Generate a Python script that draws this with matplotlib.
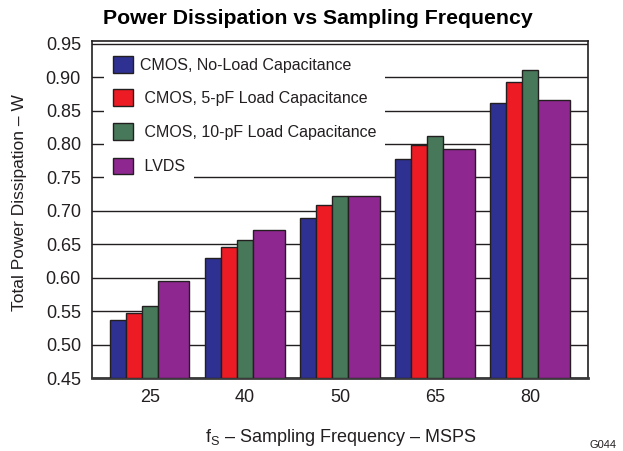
import numpy as np
import matplotlib.pyplot as plt

plt.rcParams['font.family'] = ['Liberation Sans', 'DejaVu Sans']
plt.rcParams['mathtext.fontset'] = 'custom'
plt.rcParams['mathtext.rm'] = 'Liberation Sans'
plt.rcParams['mathtext.it'] = 'Liberation Sans:italic'

# sampling frequencies (MSPS) and total power (W) per output mode
freqs = ['25', '40', '50', '65', '80']
cmos_no_load = [0.537, 0.630, 0.690, 0.777, 0.862]
cmos_5pf = [0.547, 0.646, 0.708, 0.799, 0.893]
cmos_10pf = [0.558, 0.657, 0.722, 0.812, 0.910]
lvds = [0.595, 0.672, 0.722, 0.793, 0.866]

series_labels = ['CMOS, No-Load Capacitance', ' CMOS, 5-pF Load Capacitance',
                 ' CMOS, 10-pF Load Capacitance', ' LVDS']
colors = ['#2E3192', '#ED1C24', '#48785A', '#8E278F']
ink = '#231F20'

fig = plt.figure(figsize=(6.23, 4.51), dpi=100)
ax = fig.add_axes([92 / 623, 1 - 378 / 451, 496 / 623, 337 / 451])

x = np.arange(len(freqs))
narrow = 0.168
wide = 0.33
offsets = [-0.418, -0.25, -0.082, 0.086]
widths = [narrow, narrow, narrow, wide]
all_series = [cmos_no_load, cmos_5pf, cmos_10pf, lvds]
base = 0.45

bars = []
for vals, off, w, c, lab in zip(all_series, offsets, widths, colors, series_labels):
    b = ax.bar(x + off, np.array(vals) - base, w, bottom=base, align='edge',
               color=c, edgecolor=ink, linewidth=1.0, label=lab, zorder=3)
    bars.append(b)

ax.set_xlim(-0.61, 4.61)
ax.set_ylim(0.45, 0.954)
yt = np.arange(0.45, 0.951, 0.05)
ax.set_yticks(yt)
ax.set_yticklabels([f'{v:.2f}' for v in yt])
ax.set_xticks(x)
ax.set_xticklabels(freqs)
ax.tick_params(axis='both', length=0, labelsize=13, colors=ink)
ax.tick_params(axis='x', pad=8)
ax.tick_params(axis='y', pad=8)
ax.yaxis.grid(True, color=ink, linewidth=1.0, zorder=0)
ax.set_axisbelow(True)
for side in ['left', 'top', 'right']:
    ax.spines[side].set_color(ink)
    ax.spines[side].set_linewidth(1.2)
ax.spines['bottom'].set_color('#3a3a3a')
ax.spines['bottom'].set_linewidth(2.0)

# legend split in two so the LVDS row only masks the grid behind its own text
leg_kw = dict(borderaxespad=0, frameon=True, fancybox=False, fontsize=11.5,
              handlelength=1.25, handleheight=1.25, handletextpad=0.46,
              labelspacing=1.05, borderpad=0.55)
anchor_x = 12 / 496
leg1 = ax.legend(bars[:3], series_labels[:3], loc='upper left',
                 bbox_to_anchor=(anchor_x, 1 - 6 / 337), **leg_kw)
ax.add_artist(leg1)
leg2 = ax.legend(bars[3:], series_labels[3:], loc='center left',
                 bbox_to_anchor=(anchor_x, (378 - 166) / 337), **leg_kw)
for leg in (leg1, leg2):
    leg.get_frame().set_facecolor('white')
    leg.get_frame().set_edgecolor('none')
    leg.get_frame().set_alpha(1.0)
    for t in leg.get_texts():
        t.set_color(ink)
    for h in leg.legend_handles:
        h.set_edgecolor(ink)

fig.text(20 / 623, 1 - 203 / 451, 'Total Power Dissipation – W', rotation=90,
         ha='center', va='center', fontsize=12.5, color=ink)
fig.text(341 / 623, 1 - 437 / 451, r'f$_\mathrm{S}$ – Sampling Frequency – MSPS',
         ha='center', va='center', fontsize=13, color=ink)
fig.text(318 / 623, 1 - 18 / 451, 'Power Dissipation vs Sampling Frequency',
         ha='center', va='center', fontsize=15.3, fontweight='bold', color='black')
fig.text(603 / 623, 1 - 445 / 451, 'G044', ha='center', va='center',
         fontsize=8, color=ink)

fig.savefig('out.png', dpi=100)
